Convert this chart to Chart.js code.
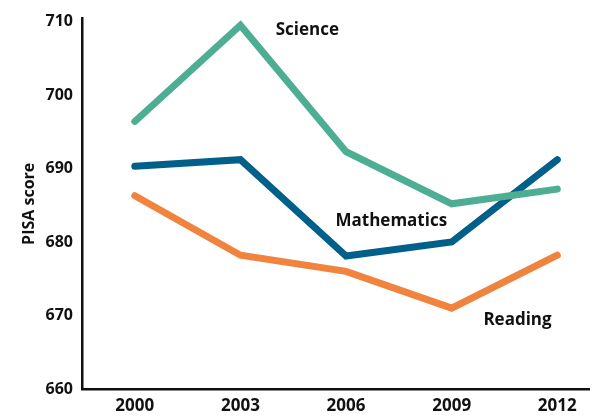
<!DOCTYPE html>
<html>
<head>
<meta charset="utf-8">
<script src="https://cdn.jsdelivr.net/npm/chart.js@4"></script>
<style>
html,body{margin:0;padding:0;background:#fff;}
#wrap{width:594px;height:419px;}
</style>
</head>
<body>
<div id="wrap"><canvas id="grafica"></canvas></div>
<script>
// datos
const years = [2000, 2003, 2006, 2009, 2012];
const science = [696.4, 709.5, 692.3, 685.2, 687.2];
const mathematics = [690.3, 691.2, 678.1, 680, 691.2];
const reading = [686.3, 678.2, 676, 671, 678.2];
const yTicks = [660, 670, 680, 690, 700, 710];

// etiquetas de las series (anclas en coordenadas de datos)
const seriesLabels = [
  {text:"Science", x:2004, y:708.8},
  {text:"Mathematics", x:2005.7, y:682.8},
  {text:"Reading", x:2009.9, y:669.3}
];

const FONT = "'Open Sans', Lato, sans-serif";

const toPoints = vals => vals.map((v,i) => ({x:years[i], y:v}));

const labelPlugin = {
  id:"seriesLabels",
  afterDatasetsDraw(chart){
    const ctx = chart.ctx;
    const xs = chart.scales.x, ys = chart.scales.y;
    ctx.save();
    ctx.fillStyle = "#111";
    ctx.font = "bold 17px " + FONT;
    ctx.textAlign = "left";
    ctx.textBaseline = "middle";
    seriesLabels.forEach(l => {
      ctx.fillText(l.text, xs.getPixelForValue(l.x), ys.getPixelForValue(l.y));
    });
    ctx.restore();
  }
};

new Chart(document.getElementById("grafica"), {
  type:"line",
  data:{
    datasets:[
      {label:"Science", data:toPoints(science), borderColor:"#4dae94"},
      {label:"Mathematics", data:toPoints(mathematics), borderColor:"#00608a"},
      {label:"Reading", data:toPoints(reading), borderColor:"#f0833d"}
    ]
  },
  options:{
    responsive:true,
    maintainAspectRatio:false,
    animation:false,
    layout:{padding:{top:15, right:5, left:0, bottom:0}},
    elements:{
      line:{borderWidth:7, tension:0, borderCapStyle:"round", borderJoinStyle:"miter"},
      point:{radius:0}
    },
    plugins:{
      legend:{display:false},
      tooltip:{enabled:false}
    },
    scales:{
      x:{
        type:"linear",
        min:1998.5,
        max:2012.9,
        grid:{display:false, drawTicks:false},
        border:{display:true, color:"#111", width:2.5},
        afterBuildTicks(axis){ axis.ticks = years.map(v => ({value:v})); },
        afterFit(axis){ axis.height = 30; },
        ticks:{
          padding:7,
          color:"#111",
          font:{family:FONT, size:17, weight:"bold"},
          callback:v => String(v)
        }
      },
      y:{
        min:660,
        max:710.4,
        grid:{display:false, drawTicks:false},
        border:{display:true, color:"#111", width:2.5},
        afterBuildTicks(axis){ axis.ticks = yTicks.map(v => ({value:v})); },
        afterFit(axis){ axis.width = 82; },
        title:{
          display:true,
          text:"PISA score",
          color:"#111",
          padding:{top:20, bottom:0},
          font:{family:FONT, size:16, weight:"bold"}
        },
        ticks:{
          padding:9,
          color:"#111",
          font:{family:FONT, size:16, weight:"bold"}
        }
      }
    }
  },
  plugins:[labelPlugin]
});
</script>
</body>
</html>
